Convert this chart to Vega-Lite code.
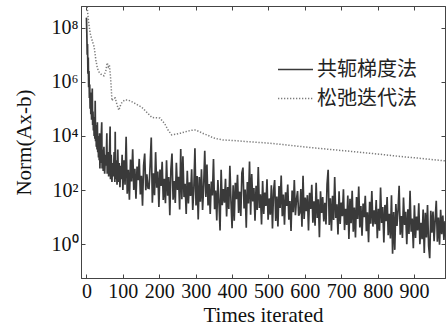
{
  "$schema": "https://vega.github.io/schema/vega-lite/v6.json",
  "width": 364,
  "height": 272,
  "autosize": "none",
  "padding": {"left": 81, "top": 6, "right": 1, "bottom": 53},
  "background": "white",
  "config": {
    "view": {"stroke": "#444", "strokeWidth": 1},
    "font": "Liberation Serif",
    "axis": {"grid": false, "domainColor": "#444", "tickColor": "#444", "labelColor": "#111", "titleColor": "#111", "labelFont": "Liberation Serif", "titleFont": "Liberation Serif", "titleFontWeight": "normal"}
  },
  "datasets": {
    "cg": [
      {"iter":0,"lg":8.37},{"iter":1,"lg":7.8},{"iter":2,"lg":7.0},{"iter":3,"lg":7.4},{"iter":4,"lg":6.3},{"iter":5,"lg":6.9},{"iter":6,"lg":5.8},{"iter":7,"lg":6.4},{"iter":8,"lg":5.4},{"iter":9,"lg":5.9},{"iter":10,"lg":5.0},{"iter":11,"lg":5.6},{"iter":12,"lg":4.8},{"iter":13,"lg":5.4},{"iter":14,"lg":4.6},{"iter":15,"lg":5.1},{"iter":16,"lg":5.75},{"iter":17,"lg":4.4},{"iter":18,"lg":4.9},{"iter":19,"lg":4.2},{"iter":20,"lg":4.7},{"iter":21,"lg":4.0},{"iter":22,"lg":4.5},{"iter":23,"lg":3.9},{"iter":24,"lg":5.3},{"iter":25,"lg":3.8},{"iter":26,"lg":4.4},{"iter":27,"lg":3.6},{"iter":28,"lg":4.2},{"iter":29,"lg":3.5},{"iter":30,"lg":4.5},{"iter":31,"lg":3.4},{"iter":32,"lg":4.0},{"iter":33,"lg":3.2},{"iter":34,"lg":3.9},{"iter":35,"lg":3.1},{"iter":36,"lg":4.1},{"iter":37,"lg":2.8},{"iter":38,"lg":3.7},{"iter":39,"lg":3.0},{"iter":40,"lg":3.8},{"iter":42,"lg":4.5},{"iter":43,"lg":2.8},{"iter":44,"lg":3.5},{"iter":46,"lg":2.7},{"iter":48,"lg":3.6},{"iter":50,"lg":2.6},{"iter":52,"lg":3.3},{"iter":54,"lg":2.9},{"iter":56,"lg":4.1},{"iter":57,"lg":2.6},{"iter":59,"lg":3.4},{"iter":61,"lg":2.5},{"iter":63,"lg":3.2},{"iter":65,"lg":4.35},{"iter":66,"lg":2.4},{"iter":68,"lg":3.3},{"iter":70,"lg":2.3},{"iter":72,"lg":3.0},{"iter":74,"lg":2.5},{"iter":76,"lg":3.4},{"iter":78,"lg":2.3},{"iter":79,"lg":4.15},{"iter":80,"lg":2.4},{"iter":82,"lg":3.1},{"iter":84,"lg":2.2},{"iter":86,"lg":3.5},{"iter":88,"lg":2.3},{"iter":90,"lg":3.0},{"iter":92,"lg":2.1},{"iter":94,"lg":2.9},{"iter":96,"lg":2.4},{"iter":98,"lg":3.3},{"iter":100,"lg":2.0},
      {"iter":103,"lg":3.1},{"iter":106,"lg":2.2},{"iter":109,"lg":3.97},{"iter":112,"lg":1.86},{"iter":115,"lg":2.75},{"iter":118,"lg":1.64},{"iter":121,"lg":3.13},{"iter":124,"lg":2.32},{"iter":127,"lg":3.51},{"iter":130,"lg":2.0},{"iter":133,"lg":2.79},{"iter":136,"lg":1.68},{"iter":139,"lg":2.87},{"iter":142,"lg":2.36},{"iter":145,"lg":3.15},{"iter":148,"lg":1.84},{"iter":151,"lg":2.53},{"iter":154,"lg":1.42},{"iter":157,"lg":2.91},{"iter":160,"lg":3.35},{"iter":163,"lg":1.99},{"iter":166,"lg":2.58},{"iter":169,"lg":2.07},
      {"iter":172,"lg":2.06},{"iter":175,"lg":2.95},{"iter":178,"lg":3.94},{"iter":181,"lg":1.53},{"iter":184,"lg":2.62},{"iter":187,"lg":1.81},{"iter":190,"lg":3.4},{"iter":193,"lg":2.09},{"iter":196,"lg":2.68},{"iter":199,"lg":1.37},{"iter":202,"lg":2.76},{"iter":205,"lg":2.15},{"iter":208,"lg":3.04},{"iter":211,"lg":1.63},{"iter":214,"lg":2.42},{"iter":217,"lg":1.51},{"iter":220,"lg":3.1},{"iter":223,"lg":1.79},{"iter":226,"lg":2.48},{"iter":229,"lg":1.07},{"iter":232,"lg":2.76},{"iter":235,"lg":3.35},{"iter":238,"lg":1.64},
      {"iter":241,"lg":2.33},{"iter":244,"lg":1.52},{"iter":247,"lg":3.01},{"iter":250,"lg":2.0},{"iter":253,"lg":2.49},{"iter":256,"lg":1.28},{"iter":259,"lg":3.52},{"iter":262,"lg":1.66},{"iter":265,"lg":3.25},{"iter":268,"lg":1.74},{"iter":271,"lg":2.23},{"iter":274,"lg":1.12},{"iter":277,"lg":2.71},{"iter":280,"lg":1.5},{"iter":283,"lg":2.29},{"iter":286,"lg":1.78},{"iter":289,"lg":2.77},{"iter":292,"lg":1.26},{"iter":295,"lg":2.05},{"iter":298,"lg":3.54},{"iter":301,"lg":1.43},{"iter":304,"lg":2.52},{"iter":307,"lg":0.91},
      {"iter":310,"lg":2.48},{"iter":313,"lg":1.57},{"iter":316,"lg":2.77},{"iter":319,"lg":1.26},{"iter":322,"lg":2.16},{"iter":325,"lg":3.45},{"iter":328,"lg":1.74},{"iter":331,"lg":2.94},{"iter":334,"lg":1.43},{"iter":337,"lg":2.22},{"iter":340,"lg":1.12},{"iter":343,"lg":2.31},{"iter":346,"lg":1.8},{"iter":349,"lg":3.15},{"iter":352,"lg":1.29},{"iter":355,"lg":1.98},{"iter":358,"lg":0.88},{"iter":361,"lg":2.37},{"iter":364,"lg":1.56},{"iter":367,"lg":0.51},{"iter":370,"lg":2.75},{"iter":373,"lg":1.44},{"iter":376,"lg":2.04},
      {"iter":379,"lg":1.53},{"iter":382,"lg":2.42},{"iter":385,"lg":1.02},{"iter":388,"lg":2.11},{"iter":391,"lg":1.3},{"iter":394,"lg":2.9},{"iter":397,"lg":1.59},{"iter":400,"lg":0.59},{"iter":403,"lg":2.18},{"iter":406,"lg":0.87},{"iter":409,"lg":2.27},{"iter":412,"lg":1.66},{"iter":415,"lg":2.56},{"iter":418,"lg":1.15},{"iter":421,"lg":1.94},{"iter":424,"lg":1.04},{"iter":427,"lg":2.63},{"iter":430,"lg":2.83},{"iter":433,"lg":1.32},{"iter":436,"lg":2.02},{"iter":439,"lg":0.61},{"iter":442,"lg":2.3},{"iter":445,"lg":1.5},
      {"iter":448,"lg":3.05},{"iter":451,"lg":1.09},{"iter":454,"lg":2.59},{"iter":457,"lg":1.58},{"iter":460,"lg":2.07},{"iter":463,"lg":0.87},{"iter":466,"lg":2.16},{"iter":469,"lg":1.26},{"iter":472,"lg":2.85},{"iter":475,"lg":1.34},{"iter":478,"lg":1.84},{"iter":481,"lg":0.73},{"iter":484,"lg":2.33},{"iter":487,"lg":1.12},{"iter":490,"lg":1.91},{"iter":493,"lg":1.41},{"iter":496,"lg":2.4},{"iter":499,"lg":0.9},{"iter":502,"lg":1.69},{"iter":505,"lg":1.09},{"iter":508,"lg":2.18},{"iter":511,"lg":0.58},{"iter":514,"lg":1.97},
      {"iter":517,"lg":2.37},{"iter":520,"lg":0.86},{"iter":523,"lg":1.76},{"iter":526,"lg":0.65},{"iter":529,"lg":2.15},{"iter":532,"lg":1.34},{"iter":535,"lg":2.54},{"iter":538,"lg":1.03},{"iter":541,"lg":1.83},{"iter":544,"lg":0.72},{"iter":547,"lg":1.92},{"iter":550,"lg":1.41},{"iter":553,"lg":2.2},{"iter":556,"lg":0.9},{"iter":559,"lg":1.59},{"iter":562,"lg":0.49},{"iter":565,"lg":1.98},{"iter":568,"lg":1.18},{"iter":571,"lg":2.37},{"iter":574,"lg":1.07},{"iter":577,"lg":1.66},{"iter":580,"lg":1.96},{"iter":583,"lg":1.05},
      {"iter":586,"lg":1.15},{"iter":589,"lg":2.04},{"iter":592,"lg":0.64},{"iter":595,"lg":2.53},{"iter":598,"lg":0.93},{"iter":601,"lg":1.72},{"iter":604,"lg":1.22},{"iter":607,"lg":1.81},{"iter":610,"lg":0.51},{"iter":613,"lg":1.9},{"iter":616,"lg":1.3},{"iter":619,"lg":2.19},{"iter":622,"lg":0.79},{"iter":625,"lg":1.58},{"iter":628,"lg":0.68},{"iter":631,"lg":2.27},{"iter":634,"lg":0.97},{"iter":637,"lg":1.66},{"iter":640,"lg":0.26},{"iter":643,"lg":1.95},{"iter":646,"lg":1.15},{"iter":649,"lg":1.74},{"iter":652,"lg":0.84},
      {"iter":655,"lg":1.53},{"iter":658,"lg":0.73},{"iter":661,"lg":2.22},{"iter":664,"lg":2.75},{"iter":667,"lg":0.71},{"iter":670,"lg":1.7},{"iter":673,"lg":0.5},{"iter":676,"lg":1.79},{"iter":679,"lg":0.89},{"iter":682,"lg":2.48},{"iter":685,"lg":0.97},{"iter":688,"lg":1.47},{"iter":691,"lg":0.36},{"iter":694,"lg":1.95},{"iter":697,"lg":0.75},{"iter":700,"lg":1.54},{"iter":703,"lg":1.03},{"iter":706,"lg":2.03},{"iter":709,"lg":0.52},{"iter":712,"lg":1.31},{"iter":715,"lg":0.71},{"iter":718,"lg":1.8},{"iter":721,"lg":0.19},
      {"iter":724,"lg":1.68},{"iter":727,"lg":0.77},{"iter":730,"lg":1.97},{"iter":733,"lg":0.46},{"iter":736,"lg":1.35},{"iter":739,"lg":0.25},{"iter":742,"lg":1.74},{"iter":745,"lg":0.93},{"iter":748,"lg":2.13},{"iter":751,"lg":0.62},{"iter":754,"lg":1.41},{"iter":757,"lg":0.31},{"iter":760,"lg":1.5},{"iter":763,"lg":1.0},{"iter":766,"lg":1.79},{"iter":769,"lg":0.48},{"iter":772,"lg":1.18},{"iter":775,"lg":0.07},{"iter":778,"lg":1.57},{"iter":781,"lg":0.76},{"iter":784,"lg":1.96},{"iter":787,"lg":0.65},{"iter":790,"lg":1.25},
      {"iter":793,"lg":0.74},{"iter":796,"lg":1.63},{"iter":799,"lg":0.22},{"iter":802,"lg":1.31},{"iter":805,"lg":0.5},{"iter":808,"lg":2.09},{"iter":811,"lg":0.78},{"iter":814,"lg":1.37},{"iter":817,"lg":0.06},{"iter":820,"lg":1.45},{"iter":823,"lg":0.85},{"iter":826,"lg":1.74},{"iter":829,"lg":0.33},{"iter":832,"lg":1.12},{"iter":835,"lg":0.21},{"iter":838,"lg":1.81},{"iter":841,"lg":-0.35},{"iter":844,"lg":1.19},{"iter":847,"lg":-0.21},{"iter":850,"lg":1.48},{"iter":853,"lg":0.67},{"iter":856,"lg":1.26},{"iter":859,"lg":2.16},
      {"iter":862,"lg":0.35},{"iter":865,"lg":1.04},{"iter":868,"lg":0.23},{"iter":871,"lg":1.72},{"iter":874,"lg":0.71},{"iter":877,"lg":1.2},{"iter":880,"lg":0.0},{"iter":883,"lg":1.29},{"iter":886,"lg":0.38},{"iter":889,"lg":1.97},{"iter":892,"lg":0.46},{"iter":895,"lg":0.95},{"iter":898,"lg":-0.15},{"iter":901,"lg":1.44},{"iter":904,"lg":0.23},{"iter":907,"lg":1.02},{"iter":910,"lg":0.51},{"iter":913,"lg":1.51},{"iter":916,"lg":0.0},{"iter":919,"lg":0.79},{"iter":922,"lg":0.18},{"iter":925,"lg":1.28},{"iter":928,"lg":-0.33},
      {"iter":931,"lg":1.16},{"iter":934,"lg":0.25},{"iter":937,"lg":1.45},{"iter":940,"lg":-0.06},{"iter":943,"lg":-0.52},{"iter":946,"lg":1.23},{"iter":949,"lg":0.42},{"iter":952,"lg":1.21},{"iter":955,"lg":0.11},{"iter":958,"lg":0.9},{"iter":961,"lg":1.6},{"iter":964,"lg":0.09},{"iter":967,"lg":0.98},{"iter":970,"lg":-0.02},{"iter":973,"lg":1.27},{"iter":976,"lg":0.37},{"iter":979,"lg":1.06},{"iter":982,"lg":0.16},{"iter":985,"lg":0.85}
    ],
    "sor": [
      {"iter":0,"lg":9.1},{"iter":3,"lg":8.6},{"iter":6,"lg":8.2},{"iter":10,"lg":7.8},{"iter":15,"lg":7.55},{"iter":21,"lg":7.3},{"iter":26,"lg":6.8},{"iter":30,"lg":6.5},{"iter":35,"lg":6.35},{"iter":42,"lg":6.25},{"iter":48,"lg":6.22},{"iter":53,"lg":6.4},{"iter":57,"lg":6.7},{"iter":60,"lg":6.55},{"iter":63,"lg":6.62},{"iter":66,"lg":6.2},{"iter":68,"lg":5.8},{"iter":70,"lg":5.3},{"iter":74,"lg":5.38},{"iter":79,"lg":5.4},{"iter":84,"lg":5.15},{"iter":89,"lg":4.95},{"iter":94,"lg":5.15},{"iter":98,"lg":5.25},{"iter":106,"lg":5.33},{"iter":115,"lg":5.32},{"iter":128,"lg":5.24},{"iter":140,"lg":5.15},{"iter":152,"lg":5.06},{"iter":165,"lg":4.88},{"iter":180,"lg":4.68},{"iter":190,"lg":4.67},{"iter":202,"lg":4.66},{"iter":215,"lg":4.45},{"iter":225,"lg":4.2},{"iter":234,"lg":4.04},{"iter":245,"lg":4.06},{"iter":258,"lg":4.1},{"iter":271,"lg":4.15},{"iter":285,"lg":4.2},{"iter":298,"lg":4.22},{"iter":310,"lg":4.16},{"iter":322,"lg":4.08},{"iter":334,"lg":4.02},{"iter":348,"lg":3.93},{"iter":360,"lg":3.89},{"iter":375,"lg":3.85},{"iter":403,"lg":3.83},{"iter":450,"lg":3.78},{"iter":495,"lg":3.74},{"iter":540,"lg":3.68},{"iter":587,"lg":3.61},{"iter":630,"lg":3.55},{"iter":678,"lg":3.49},{"iter":725,"lg":3.43},{"iter":770,"lg":3.37},{"iter":815,"lg":3.31},{"iter":862,"lg":3.24},{"iter":910,"lg":3.18},{"iter":953,"lg":3.12},{"iter":985,"lg":3.08}
    ]
  },
  "layer": [
    {
      "data": {"name": "cg"},
      "mark": {"type": "line", "strokeWidth": 1.7, "clip": true},
      "encoding": {
        "x": {"field": "iter", "type": "quantitative",
          "scale": {"domain": [-15, 985], "nice": false, "zero": false},
          "axis": {"orient": "bottom", "values": [0,100,200,300,400,500,600,700,800,900], "tickSize": -4, "labelPadding": 7, "labelFontSize": 20, "labelFlush": false, "title": "Times iterated", "titleFontSize": 21, "titlePadding": 3}},
        "y": {"field": "lg", "type": "quantitative",
          "scale": {"domain": [-1.25, 8.8], "nice": false, "zero": false},
          "axis": {"orient": "left", "values": [0,2,4,6,8], "tickSize": -4, "labelPadding": 7, "labelFontSize": 20, "labelFlush": false, "labelExpr": "'10' + ['⁰','¹','²','³','⁴','⁵','⁶','⁷','⁸','⁹'][datum.value]", "title": "Norm(Ax-b)", "titleFontSize": 21, "titlePadding": 17}},
        "color": {"datum": "共轭梯度法", "scale": {"domain": ["共轭梯度法", "松弛迭代法"], "range": ["#3a3a3a", "#7c7c7c"]},
          "legend": {"orient": "none", "legendX": 196, "legendY": 45, "title": null, "symbolType": "stroke", "symbolSize": 1225, "symbolStrokeWidth": 1.7, "labelFont": "Noto Sans CJK SC", "labelFontSize": 20, "labelColor": "#222", "rowPadding": -3, "labelOffset": 3}},
        "strokeDash": {"datum": "共轭梯度法", "scale": {"domain": ["共轭梯度法", "松弛迭代法"], "range": [[1, 0], [1.3, 1.7]]},
          "legend": {"orient": "none", "legendX": 196, "legendY": 45, "title": null, "symbolType": "stroke", "symbolSize": 1225, "symbolStrokeWidth": 1.7, "labelFont": "Noto Sans CJK SC", "labelFontSize": 20, "labelColor": "#222", "rowPadding": -3, "labelOffset": 3}}
      }
    },
    {
      "data": {"name": "sor"},
      "mark": {"type": "line", "strokeWidth": 1.5, "clip": true},
      "encoding": {
        "x": {"field": "iter", "type": "quantitative",
          "axis": {"orient": "top", "values": [0,100,200,300,400,500,600,700,800,900], "tickSize": -4, "labels": false, "title": null}},
        "y": {"field": "lg", "type": "quantitative",
          "axis": {"orient": "right", "values": [0,2,4,6,8], "tickSize": -4, "labels": false, "title": null}},
        "color": {"datum": "松弛迭代法"},
        "strokeDash": {"datum": "松弛迭代法"}
      }
    }
  ],
  "resolve": {"axis": {"x": "independent", "y": "independent"}}
}
